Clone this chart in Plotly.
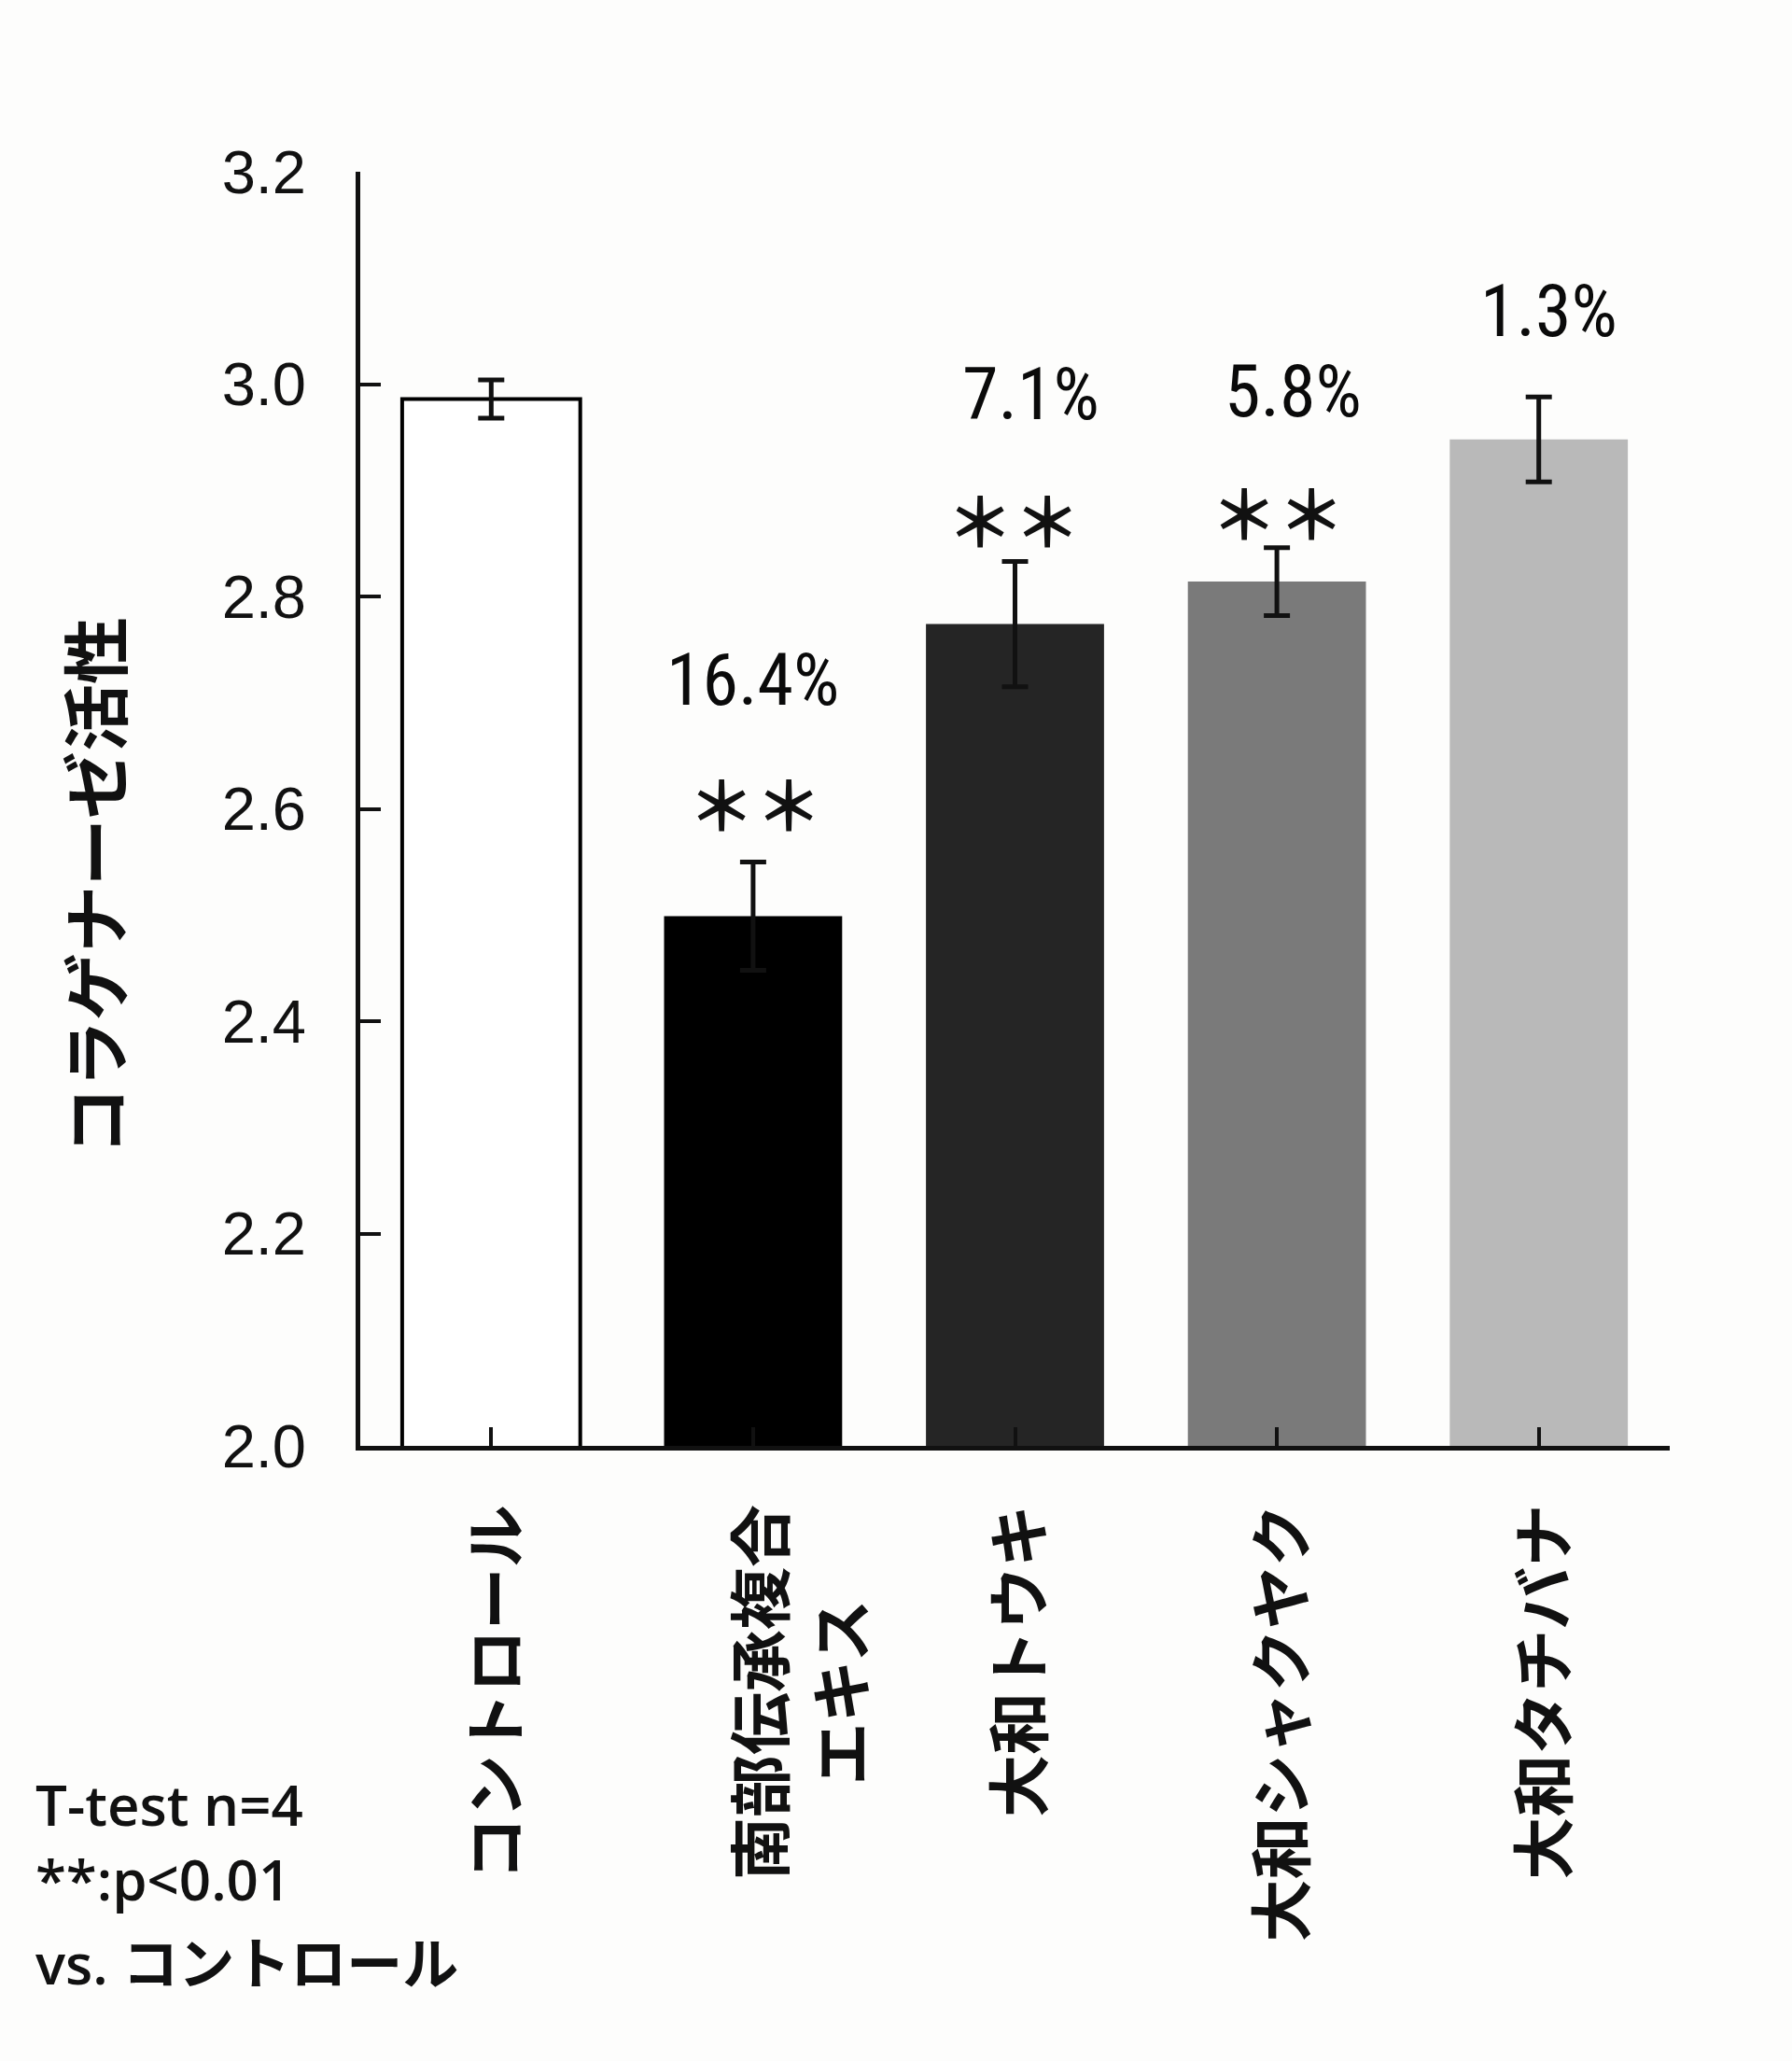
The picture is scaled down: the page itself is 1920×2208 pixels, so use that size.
import plotly.graph_objects as go

# ---------------- data ----------------
categories = ["コントロール", "南部伝承複合<br>エキス", "大和トウキ", "大和シャクヤク", "大和タチバナ"]
values = [2.986, 2.499, 2.774, 2.814, 2.948]
errors = [0.018, 0.051, 0.059, 0.032, 0.040]
pct_labels = ["", "16.4%", "7.1%", "5.8%", "1.3%"]
sig_labels = ["", "＊＊", "＊＊", "＊＊", ""]
y_ticks = [2.0, 2.2, 2.4, 2.6, 2.8, 3.0, 3.2]
y_title = "コラゲナーゼ活性"
notes = ["T-test n=4", "**:p<0.01", "vs. コントロール"]

# ---------------- layout / style ----------------
W, H = 1920, 2208
L, R, T, B = 386, 131, 184, 659
PW, PH = W - L - R, H - T - B

def px_x(x):
    return (x - L) / PW

def px_y(y):
    return (H - B - y) / PH

bar_colors = ["#ffffff", "#000000", "#252525", "#7a7a7a", "#b9b9b9"]
line_colors = ["#000000", "#000000", "#252525", "#7a7a7a", "#b9b9b9"]
line_widths = [4, 0, 0, 0, 0]

pct_y = [None, 2.721, 2.990, 2.993, 3.069]
pct_xshift = [0, 0, 17, 17, 11]
sig_y = [None, 2.607, 2.874, 2.881, None]
sig_xshift = [0, 2, -2, 1, 0]

fig = go.Figure()
fig.add_trace(go.Bar(
    x=list(range(len(categories))),
    y=values,
    width=0.68,
    marker=dict(color=bar_colors, line=dict(color=line_colors, width=line_widths)),
    error_y=dict(type="data", array=errors, visible=True, color="#111111", thickness=5, width=14),
    showlegend=False,
))

annotations = []
for i, (t, yy, xs) in enumerate(zip(pct_labels, pct_y, pct_xshift)):
    if t:
        annotations.append(dict(x=i, y=yy, xref="x", yref="y", text=t, showarrow=False,
                                xshift=xs, xanchor="center", yanchor="middle",
                                font=dict(family="Roboto Condensed, Liberation Sans Narrow, Liberation Sans",
                                          size=78, color="#0a0a0a")))
for i, (t, yy, xs) in enumerate(zip(sig_labels, sig_y, sig_xshift)):
    if t:
        annotations.append(dict(x=i, y=yy, xref="x", yref="y", text=t, showarrow=False,
                                xshift=xs, xanchor="center", yanchor="middle",
                                font=dict(family="Noto Sans CJK JP", size=72, color="#111111", weight=700)))

# category labels (vertical)
label_xshift = [0, 47, 0, 0, 0]
for i, c in enumerate(categories):
    annotations.append(dict(x=i, y=px_y(1610), xref="x", yref="paper", text=c, showarrow=False,
                            textangle=-90, xanchor="center", yanchor="top", align="center",
                            xshift=label_xshift[i],
                            font=dict(family="Noto Sans CJK JP", size=67, color="#111111", weight=700)))

# y-axis title
annotations.append(dict(x=px_x(98), y=px_y(949), xref="paper", yref="paper", text=y_title,
                        showarrow=False, textangle=-90, xanchor="center", yanchor="middle",
                        font=dict(family="Noto Sans CJK JP", size=72, color="#111111", weight=700)))

# notes
note_y = [1933, 2013, 2103]
for t, yy in zip(notes, note_y):
    annotations.append(dict(x=px_x(36), y=px_y(yy), xref="paper", yref="paper", text=t,
                            showarrow=False, xanchor="left", yanchor="middle",
                            font=dict(family="Open Sans, Noto Sans CJK JP", size=60, color="#111111", weight=600)))

fig.update_layout(
    width=W, height=H,
    margin=dict(l=L, r=R, t=T, b=B, pad=0),
    paper_bgcolor="#fdfdfc", plot_bgcolor="rgba(0,0,0,0)",
    annotations=annotations,
    bargap=0.32,
)
fig.update_xaxes(
    range=[-0.5, 4.5], tickmode="array", tickvals=list(range(len(categories))),
    showticklabels=False, ticks="inside", tickson="boundaries", ticklen=20, tickwidth=4,
    tickcolor="#111111", showline=True, linewidth=5, linecolor="#111111",
    showgrid=False, zeroline=False,
)
fig.update_yaxes(
    range=[2.0, 3.2], tickmode="array", tickvals=y_ticks, tickformat=".1f",
    ticks="inside", ticklen=22, tickwidth=4, tickcolor="#111111",
    showline=True, linewidth=5, linecolor="#111111", showgrid=False, zeroline=False,
    ticklabelstandoff=40,
    tickfont=dict(family="Liberation Sans, Arial", size=65, color="#111111"),
)

fig.write_html("out.html")
